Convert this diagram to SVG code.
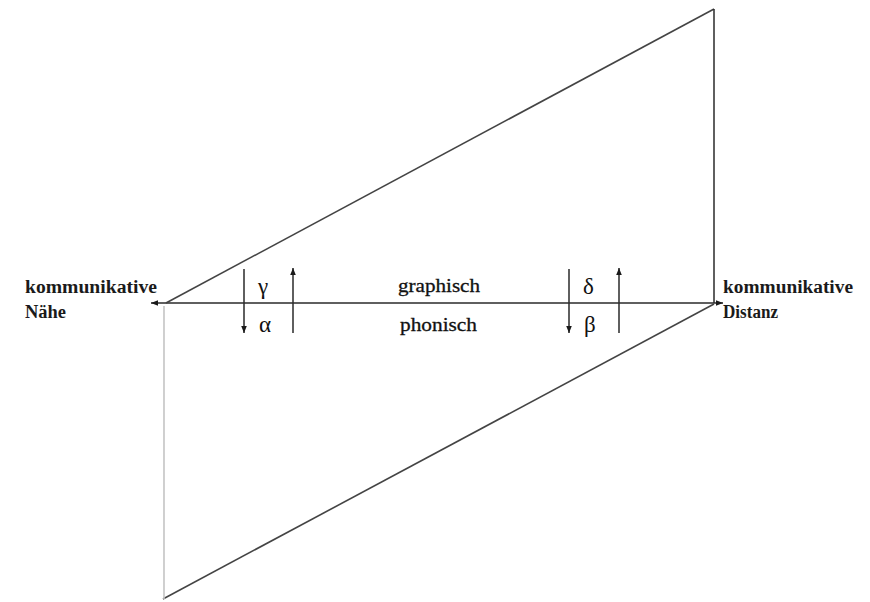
<svg xmlns="http://www.w3.org/2000/svg" width="870" height="602" viewBox="0 0 870 602">
<style>
.ln{stroke:#2a2a2a;stroke-width:1.5;fill:none}
.dg{stroke:#444;stroke-width:1.6;fill:none}
.lt{stroke:#c4c4c4;stroke-width:1.6;fill:none}
.lbl{font-family:"Liberation Serif","Times New Roman",serif;font-weight:bold;font-size:18px;fill:#1a1a1a}
.mid{font-family:"Liberation Serif","Times New Roman",serif;font-size:19px;fill:#111;stroke:#111;stroke-width:0.3}
.gr{font-family:"Liberation Serif","Times New Roman",serif;font-size:23px;fill:#111}
</style>
<defs>
<marker id="ah" viewBox="0 0 10 10" refX="10" refY="5" markerWidth="7" markerHeight="7" markerUnits="userSpaceOnUse" orient="auto">
<path d="M0,1 L10,5 L0,9 Z" fill="#1a1a1a"/>
</marker>
</defs>
<rect width="870" height="602" fill="#ffffff"/>
<g id="connectors">
<line class="ln" x1="437" y1="303" x2="151" y2="303" marker-end="url(#ah)"/>
<line class="ln" x1="437" y1="303" x2="723" y2="303" marker-end="url(#ah)"/>
<line class="dg" x1="166" y1="303" x2="714" y2="9"/>
<line class="ln" x1="714" y1="9" x2="714" y2="303"/>
<line class="dg" x1="714" y1="304" x2="163" y2="599"/>
<line class="lt" x1="164" y1="306" x2="164" y2="599"/>
<line class="ln" x1="244" y1="269" x2="244" y2="333" marker-end="url(#ah)"/>
<line class="ln" x1="293" y1="333" x2="293" y2="268" marker-end="url(#ah)"/>
<line class="ln" x1="569" y1="269" x2="569" y2="333" marker-end="url(#ah)"/>
<line class="ln" x1="619" y1="333" x2="619" y2="268" marker-end="url(#ah)"/>
</g>
<g id="naehe">
<text class="lbl" x="25" y="293" textLength="132" lengthAdjust="spacingAndGlyphs">kommunikative</text>
<text class="lbl" x="25" y="318" textLength="41" lengthAdjust="spacingAndGlyphs">Nähe</text>
</g>
<g id="distanz">
<text class="lbl" x="723" y="293" textLength="130" lengthAdjust="spacingAndGlyphs">kommunikative</text>
<text class="lbl" x="723" y="318" textLength="55" lengthAdjust="spacingAndGlyphs">Distanz</text>
</g>
<g id="graphisch"><text class="mid" x="398" y="292" textLength="82" lengthAdjust="spacingAndGlyphs">graphisch</text></g>
<g id="phonisch"><text class="mid" x="400" y="331" textLength="77" lengthAdjust="spacingAndGlyphs">phonisch</text></g>
<g id="gamma"><text class="gr" x="258" y="294">γ</text></g>
<g id="alpha"><text class="gr" x="259" y="332">α</text></g>
<g id="delta"><text class="gr" x="583" y="294">δ</text></g>
<g id="beta"><text class="gr" x="584" y="332">β</text></g>
</svg>
